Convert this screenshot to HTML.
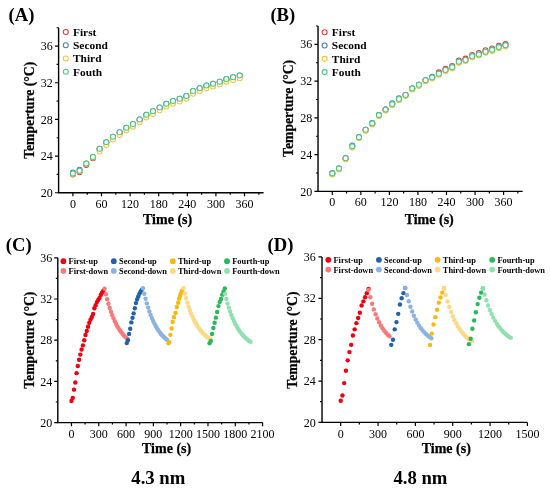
<!DOCTYPE html><html><head><meta charset="utf-8"><style>
html,body{margin:0;padding:0;background:#fff;}svg{display:block;will-change:transform;opacity:0.999;}
text{font-family:"Liberation Serif", serif;fill:#000;}
.tk{font-size:12px;}.lb{font-size:14px;font-weight:bold;stroke:#000;stroke-width:0.25px;}.yl{font-size:13.7px;font-weight:bold;stroke:#000;stroke-width:0.25px;}.pl{font-size:18.6px;font-weight:bold;}
.lg{font-size:11.4px;font-weight:bold;}.lg2{font-size:8.4px;font-weight:bold;}.nm{font-size:18.7px;font-weight:bold;}
</style></head><body>
<svg width="550" height="500" viewBox="0 0 550 500">
<rect width="550" height="500" fill="#fff"/>
<path d="M58.6 27.74V192.75H263.58" fill="none" stroke="#000" stroke-width="1.4" stroke-linecap="butt"/>
<path d="M72.9 192.75v3.6 M101.5 192.75v3.6 M130.1 192.75v3.6 M158.71 192.75v3.6 M187.31 192.75v3.6 M215.91 192.75v3.6 M244.51 192.75v3.6 M87.2 192.75v2 M115.8 192.75v2 M144.41 192.75v2 M173.01 192.75v2 M201.61 192.75v2 M230.21 192.75v2 M258.81 192.75v2 M58.6 192.75h-3.6 M58.6 156.08h-3.6 M58.6 119.41h-3.6 M58.6 82.75h-3.6 M58.6 46.08h-3.6 M58.6 174.42h-2 M58.6 137.75h-2 M58.6 101.08h-2 M58.6 64.41h-2 M58.6 27.74h-2" fill="none" stroke="#000" stroke-width="1.2"/>
<text x="72.9" y="207.5" text-anchor="middle" class="tk">0</text>
<text x="101.5" y="207.5" text-anchor="middle" class="tk">60</text>
<text x="130.1" y="207.5" text-anchor="middle" class="tk">120</text>
<text x="158.71" y="207.5" text-anchor="middle" class="tk">180</text>
<text x="187.31" y="207.5" text-anchor="middle" class="tk">240</text>
<text x="215.91" y="207.5" text-anchor="middle" class="tk">300</text>
<text x="244.51" y="207.5" text-anchor="middle" class="tk">360</text>
<text x="52.8" y="196.85" text-anchor="end" class="tk">20</text>
<text x="52.8" y="160.18" text-anchor="end" class="tk">24</text>
<text x="52.8" y="123.51" text-anchor="end" class="tk">28</text>
<text x="52.8" y="86.85" text-anchor="end" class="tk">32</text>
<text x="52.8" y="50.18" text-anchor="end" class="tk">36</text>
<g fill="#fff" stroke="#ea3a40" stroke-width="1.05"><circle cx="72.9" cy="174.51" r="2.5"/><circle cx="79.57" cy="172.22" r="2.5"/><circle cx="86.25" cy="164.97" r="2.5"/><circle cx="92.92" cy="158.28" r="2.5"/><circle cx="99.6" cy="149.21" r="2.5"/><circle cx="106.27" cy="142.79" r="2.5"/><circle cx="112.94" cy="137.29" r="2.5"/><circle cx="119.62" cy="132.71" r="2.5"/><circle cx="126.29" cy="128.12" r="2.5"/><circle cx="132.96" cy="124.46" r="2.5"/><circle cx="139.64" cy="119.87" r="2.5"/><circle cx="146.31" cy="115.29" r="2.5"/><circle cx="152.99" cy="111.62" r="2.5"/><circle cx="159.66" cy="107.96" r="2.5"/><circle cx="166.33" cy="104.29" r="2.5"/><circle cx="173.01" cy="101.54" r="2.5"/><circle cx="179.68" cy="99.25" r="2.5"/><circle cx="186.35" cy="96.5" r="2.5"/><circle cx="193.03" cy="91.45" r="2.5"/><circle cx="199.7" cy="88.7" r="2.5"/><circle cx="206.38" cy="85.95" r="2.5"/><circle cx="213.05" cy="84.12" r="2.5"/><circle cx="219.72" cy="82.29" r="2.5"/><circle cx="226.4" cy="79.54" r="2.5"/><circle cx="233.07" cy="77.7" r="2.5"/><circle cx="239.75" cy="75.87" r="2.5"/></g>
<g fill="#fff" stroke="#4d7fc0" stroke-width="1.05"><circle cx="72.9" cy="172.58" r="2.5"/><circle cx="79.57" cy="169.65" r="2.5"/><circle cx="86.25" cy="163.42" r="2.5"/><circle cx="92.92" cy="157" r="2.5"/><circle cx="99.6" cy="148.75" r="2.5"/><circle cx="106.27" cy="142.33" r="2.5"/><circle cx="112.94" cy="136.83" r="2.5"/><circle cx="119.62" cy="132.25" r="2.5"/><circle cx="126.29" cy="127.66" r="2.5"/><circle cx="132.96" cy="124" r="2.5"/><circle cx="139.64" cy="119.41" r="2.5"/><circle cx="146.31" cy="114.83" r="2.5"/><circle cx="152.99" cy="111.16" r="2.5"/><circle cx="159.66" cy="107.5" r="2.5"/><circle cx="166.33" cy="103.83" r="2.5"/><circle cx="173.01" cy="101.08" r="2.5"/><circle cx="179.68" cy="98.79" r="2.5"/><circle cx="186.35" cy="96.04" r="2.5"/><circle cx="193.03" cy="91" r="2.5"/><circle cx="199.7" cy="88.25" r="2.5"/><circle cx="206.38" cy="85.5" r="2.5"/><circle cx="213.05" cy="83.66" r="2.5"/><circle cx="219.72" cy="81.83" r="2.5"/><circle cx="226.4" cy="79.08" r="2.5"/><circle cx="233.07" cy="77.25" r="2.5"/><circle cx="239.75" cy="75.41" r="2.5"/></g>
<g fill="#fff" stroke="#f8c232" stroke-width="1.05"><circle cx="72.9" cy="173.96" r="2.5"/><circle cx="79.57" cy="171.21" r="2.5"/><circle cx="86.25" cy="163.87" r="2.5"/><circle cx="92.92" cy="157.46" r="2.5"/><circle cx="99.6" cy="151.5" r="2.5"/><circle cx="106.27" cy="145.08" r="2.5"/><circle cx="112.94" cy="139.58" r="2.5"/><circle cx="119.62" cy="135" r="2.5"/><circle cx="126.29" cy="130.41" r="2.5"/><circle cx="132.96" cy="126.75" r="2.5"/><circle cx="139.64" cy="122.16" r="2.5"/><circle cx="146.31" cy="117.58" r="2.5"/><circle cx="152.99" cy="113.91" r="2.5"/><circle cx="159.66" cy="110.25" r="2.5"/><circle cx="166.33" cy="106.58" r="2.5"/><circle cx="173.01" cy="103.83" r="2.5"/><circle cx="179.68" cy="101.54" r="2.5"/><circle cx="186.35" cy="98.79" r="2.5"/><circle cx="193.03" cy="93.75" r="2.5"/><circle cx="199.7" cy="91" r="2.5"/><circle cx="206.38" cy="88.25" r="2.5"/><circle cx="213.05" cy="86.41" r="2.5"/><circle cx="219.72" cy="84.58" r="2.5"/><circle cx="226.4" cy="81.83" r="2.5"/><circle cx="233.07" cy="80" r="2.5"/><circle cx="239.75" cy="78.16" r="2.5"/></g>
<g fill="#fff" stroke="#4cc888" stroke-width="1.05"><circle cx="72.9" cy="173.5" r="2.5"/><circle cx="79.57" cy="170.75" r="2.5"/><circle cx="86.25" cy="163.42" r="2.5"/><circle cx="92.92" cy="157" r="2.5"/><circle cx="99.6" cy="148.75" r="2.5"/><circle cx="106.27" cy="142.33" r="2.5"/><circle cx="112.94" cy="136.83" r="2.5"/><circle cx="119.62" cy="132.25" r="2.5"/><circle cx="126.29" cy="127.66" r="2.5"/><circle cx="132.96" cy="124" r="2.5"/><circle cx="139.64" cy="119.41" r="2.5"/><circle cx="146.31" cy="114.83" r="2.5"/><circle cx="152.99" cy="111.16" r="2.5"/><circle cx="159.66" cy="107.5" r="2.5"/><circle cx="166.33" cy="103.83" r="2.5"/><circle cx="173.01" cy="101.08" r="2.5"/><circle cx="179.68" cy="98.79" r="2.5"/><circle cx="186.35" cy="96.04" r="2.5"/><circle cx="193.03" cy="91" r="2.5"/><circle cx="199.7" cy="88.25" r="2.5"/><circle cx="206.38" cy="85.5" r="2.5"/><circle cx="213.05" cy="83.66" r="2.5"/><circle cx="219.72" cy="81.83" r="2.5"/><circle cx="226.4" cy="79.08" r="2.5"/><circle cx="233.07" cy="77.25" r="2.5"/><circle cx="239.75" cy="75.41" r="2.5"/></g>
<path d="M318.03 25.98V191.4H522.62" fill="none" stroke="#000" stroke-width="1.4" stroke-linecap="butt"/>
<path d="M332.3 191.4v3.6 M360.85 191.4v3.6 M389.4 191.4v3.6 M417.94 191.4v3.6 M446.49 191.4v3.6 M475.04 191.4v3.6 M503.59 191.4v3.6 M346.57 191.4v2 M375.12 191.4v2 M403.67 191.4v2 M432.22 191.4v2 M460.77 191.4v2 M489.31 191.4v2 M517.86 191.4v2 M318.03 191.4h-3.6 M318.03 154.64h-3.6 M318.03 117.88h-3.6 M318.03 81.12h-3.6 M318.03 44.36h-3.6 M318.03 173.02h-2 M318.03 136.26h-2 M318.03 99.5h-2 M318.03 62.74h-2 M318.03 25.98h-2" fill="none" stroke="#000" stroke-width="1.2"/>
<text x="332.3" y="206.3" text-anchor="middle" class="tk">0</text>
<text x="360.85" y="206.3" text-anchor="middle" class="tk">60</text>
<text x="389.4" y="206.3" text-anchor="middle" class="tk">120</text>
<text x="417.94" y="206.3" text-anchor="middle" class="tk">180</text>
<text x="446.49" y="206.3" text-anchor="middle" class="tk">240</text>
<text x="475.04" y="206.3" text-anchor="middle" class="tk">300</text>
<text x="503.59" y="206.3" text-anchor="middle" class="tk">360</text>
<text x="312.2" y="195.5" text-anchor="end" class="tk">20</text>
<text x="312.2" y="158.74" text-anchor="end" class="tk">24</text>
<text x="312.2" y="121.98" text-anchor="end" class="tk">28</text>
<text x="312.2" y="85.22" text-anchor="end" class="tk">32</text>
<text x="312.2" y="48.46" text-anchor="end" class="tk">36</text>
<g fill="#fff" stroke="#ea3a40" stroke-width="1.05"><circle cx="332.3" cy="173.39" r="2.5"/><circle cx="338.96" cy="168.43" r="2.5"/><circle cx="345.62" cy="158.32" r="2.5"/><circle cx="352.28" cy="146.37" r="2.5"/><circle cx="358.94" cy="137.18" r="2.5"/><circle cx="365.61" cy="129.83" r="2.5"/><circle cx="372.27" cy="123.39" r="2.5"/><circle cx="378.93" cy="115.12" r="2.5"/><circle cx="385.59" cy="109.61" r="2.5"/><circle cx="392.25" cy="104.1" r="2.5"/><circle cx="398.91" cy="99.04" r="2.5"/><circle cx="405.57" cy="94.91" r="2.5"/><circle cx="412.23" cy="88.47" r="2.5"/><circle cx="418.9" cy="84.8" r="2.5"/><circle cx="425.56" cy="80.2" r="2.5"/><circle cx="432.22" cy="77.44" r="2.5"/><circle cx="438.88" cy="72.39" r="2.5"/><circle cx="445.54" cy="68.71" r="2.5"/><circle cx="452.2" cy="65.96" r="2.5"/><circle cx="458.86" cy="60.44" r="2.5"/><circle cx="465.52" cy="58.6" r="2.5"/><circle cx="472.19" cy="54.93" r="2.5"/><circle cx="478.85" cy="53.09" r="2.5"/><circle cx="485.51" cy="50.33" r="2.5"/><circle cx="492.17" cy="48.5" r="2.5"/><circle cx="498.83" cy="45.74" r="2.5"/><circle cx="505.49" cy="43.9" r="2.5"/></g>
<g fill="#fff" stroke="#4d7fc0" stroke-width="1.05"><circle cx="332.3" cy="173.39" r="2.5"/><circle cx="338.96" cy="168.43" r="2.5"/><circle cx="345.62" cy="158.32" r="2.5"/><circle cx="352.28" cy="145.63" r="2.5"/><circle cx="358.94" cy="137.18" r="2.5"/><circle cx="365.61" cy="129.83" r="2.5"/><circle cx="372.27" cy="123.39" r="2.5"/><circle cx="378.93" cy="115.12" r="2.5"/><circle cx="385.59" cy="109.61" r="2.5"/><circle cx="392.25" cy="103.36" r="2.5"/><circle cx="398.91" cy="98.31" r="2.5"/><circle cx="405.57" cy="94.91" r="2.5"/><circle cx="412.23" cy="88.47" r="2.5"/><circle cx="418.9" cy="84.8" r="2.5"/><circle cx="425.56" cy="80.2" r="2.5"/><circle cx="432.22" cy="76.71" r="2.5"/><circle cx="438.88" cy="73.77" r="2.5"/><circle cx="445.54" cy="70.09" r="2.5"/><circle cx="452.2" cy="67.34" r="2.5"/><circle cx="458.86" cy="61.82" r="2.5"/><circle cx="465.52" cy="59.98" r="2.5"/><circle cx="472.19" cy="56.31" r="2.5"/><circle cx="478.85" cy="54.47" r="2.5"/><circle cx="485.51" cy="51.71" r="2.5"/><circle cx="492.17" cy="49.87" r="2.5"/><circle cx="498.83" cy="47.12" r="2.5"/><circle cx="505.49" cy="45.28" r="2.5"/></g>
<g fill="#fff" stroke="#f8c232" stroke-width="1.05"><circle cx="332.3" cy="174.49" r="2.5"/><circle cx="338.96" cy="169.53" r="2.5"/><circle cx="345.62" cy="159.42" r="2.5"/><circle cx="352.28" cy="147.47" r="2.5"/><circle cx="358.94" cy="138.28" r="2.5"/><circle cx="365.61" cy="130.93" r="2.5"/><circle cx="372.27" cy="124.5" r="2.5"/><circle cx="378.93" cy="116.23" r="2.5"/><circle cx="385.59" cy="110.71" r="2.5"/><circle cx="392.25" cy="105.2" r="2.5"/><circle cx="398.91" cy="100.14" r="2.5"/><circle cx="405.57" cy="96.01" r="2.5"/><circle cx="412.23" cy="89.57" r="2.5"/><circle cx="418.9" cy="85.9" r="2.5"/><circle cx="425.56" cy="81.3" r="2.5"/><circle cx="432.22" cy="78.55" r="2.5"/><circle cx="438.88" cy="74.87" r="2.5"/><circle cx="445.54" cy="71.19" r="2.5"/><circle cx="452.2" cy="68.44" r="2.5"/><circle cx="458.86" cy="62.92" r="2.5"/><circle cx="465.52" cy="61.09" r="2.5"/><circle cx="472.19" cy="57.41" r="2.5"/><circle cx="478.85" cy="55.57" r="2.5"/><circle cx="485.51" cy="52.81" r="2.5"/><circle cx="492.17" cy="50.98" r="2.5"/><circle cx="498.83" cy="48.22" r="2.5"/><circle cx="505.49" cy="46.38" r="2.5"/></g>
<g fill="#fff" stroke="#4cc888" stroke-width="1.05"><circle cx="332.3" cy="173.39" r="2.5"/><circle cx="338.96" cy="168.43" r="2.5"/><circle cx="345.62" cy="158.32" r="2.5"/><circle cx="352.28" cy="146.37" r="2.5"/><circle cx="358.94" cy="137.18" r="2.5"/><circle cx="365.61" cy="129.83" r="2.5"/><circle cx="372.27" cy="123.39" r="2.5"/><circle cx="378.93" cy="115.12" r="2.5"/><circle cx="385.59" cy="109.61" r="2.5"/><circle cx="392.25" cy="104.1" r="2.5"/><circle cx="398.91" cy="99.04" r="2.5"/><circle cx="405.57" cy="94.91" r="2.5"/><circle cx="412.23" cy="88.47" r="2.5"/><circle cx="418.9" cy="84.8" r="2.5"/><circle cx="425.56" cy="80.2" r="2.5"/><circle cx="432.22" cy="77.44" r="2.5"/><circle cx="438.88" cy="73.77" r="2.5"/><circle cx="445.54" cy="70.09" r="2.5"/><circle cx="452.2" cy="67.34" r="2.5"/><circle cx="458.86" cy="61.82" r="2.5"/><circle cx="465.52" cy="59.98" r="2.5"/><circle cx="472.19" cy="56.31" r="2.5"/><circle cx="478.85" cy="54.47" r="2.5"/><circle cx="485.51" cy="51.71" r="2.5"/><circle cx="492.17" cy="49.87" r="2.5"/><circle cx="498.83" cy="47.12" r="2.5"/><circle cx="505.49" cy="45.28" r="2.5"/></g>
<path d="M57.8 257.8V422.6H262.59" fill="none" stroke="#000" stroke-width="1.4" stroke-linecap="butt"/>
<path d="M71.45 422.6v3.6 M98.76 422.6v3.6 M126.06 422.6v3.6 M153.37 422.6v3.6 M180.67 422.6v3.6 M207.98 422.6v3.6 M235.29 422.6v3.6 M262.59 422.6v3.6 M85.1 422.6v2 M112.41 422.6v2 M139.72 422.6v2 M167.02 422.6v2 M194.33 422.6v2 M221.63 422.6v2 M248.94 422.6v2 M57.8 422.6h-3.6 M57.8 381.4h-3.6 M57.8 340.2h-3.6 M57.8 299h-3.6 M57.8 257.8h-3.6 M57.8 402h-2 M57.8 360.8h-2 M57.8 319.6h-2 M57.8 278.4h-2" fill="none" stroke="#000" stroke-width="1.2"/>
<text x="71.45" y="437.6" text-anchor="middle" class="tk">0</text>
<text x="98.76" y="437.6" text-anchor="middle" class="tk">300</text>
<text x="126.06" y="437.6" text-anchor="middle" class="tk">600</text>
<text x="153.37" y="437.6" text-anchor="middle" class="tk">900</text>
<text x="180.67" y="437.6" text-anchor="middle" class="tk">1200</text>
<text x="207.98" y="437.6" text-anchor="middle" class="tk">1500</text>
<text x="235.29" y="437.6" text-anchor="middle" class="tk">1800</text>
<text x="262.59" y="437.6" text-anchor="middle" class="tk">2100</text>
<text x="52.2" y="426.7" text-anchor="end" class="tk">20</text>
<text x="52.2" y="385.5" text-anchor="end" class="tk">24</text>
<text x="52.2" y="344.3" text-anchor="end" class="tk">28</text>
<text x="52.2" y="303.1" text-anchor="end" class="tk">32</text>
<text x="52.2" y="261.9" text-anchor="end" class="tk">36</text>
<g fill="#ee0010"><circle cx="71.45" cy="400.97" r="2.2"/><circle cx="72.72" cy="397.88" r="2.2"/><circle cx="74" cy="389.64" r="2.2"/><circle cx="75.27" cy="382.43" r="2.2"/><circle cx="76.55" cy="373.16" r="2.2"/><circle cx="77.82" cy="365.95" r="2.2"/><circle cx="79.1" cy="359.77" r="2.2"/><circle cx="80.37" cy="354.62" r="2.2"/><circle cx="81.64" cy="349.47" r="2.2"/><circle cx="82.92" cy="345.35" r="2.2"/><circle cx="84.19" cy="340.2" r="2.2"/><circle cx="85.47" cy="335.05" r="2.2"/><circle cx="86.74" cy="330.93" r="2.2"/><circle cx="88.02" cy="326.81" r="2.2"/><circle cx="89.29" cy="322.69" r="2.2"/><circle cx="90.56" cy="319.6" r="2.2"/><circle cx="91.84" cy="317.03" r="2.2"/><circle cx="93.11" cy="313.94" r="2.2"/><circle cx="94.39" cy="308.27" r="2.2"/><circle cx="95.66" cy="305.18" r="2.2"/><circle cx="96.94" cy="302.09" r="2.2"/><circle cx="98.21" cy="300.03" r="2.2"/><circle cx="99.48" cy="297.97" r="2.2"/><circle cx="100.76" cy="294.88" r="2.2"/><circle cx="102.03" cy="292.82" r="2.2"/><circle cx="103.31" cy="290.76" r="2.2"/></g>
<g fill="#f77a7a"><circle cx="104.58" cy="288.7" r="2.2"/><circle cx="105.86" cy="294.21" r="2.2"/><circle cx="107.13" cy="299.22" r="2.2"/><circle cx="108.4" cy="303.79" r="2.2"/><circle cx="109.68" cy="307.95" r="2.2"/><circle cx="110.95" cy="311.75" r="2.2"/><circle cx="112.23" cy="315.2" r="2.2"/><circle cx="113.5" cy="318.34" r="2.2"/><circle cx="114.78" cy="321.21" r="2.2"/><circle cx="116.05" cy="323.82" r="2.2"/><circle cx="117.32" cy="326.2" r="2.2"/><circle cx="118.6" cy="328.36" r="2.2"/><circle cx="119.87" cy="330.34" r="2.2"/><circle cx="121.15" cy="332.13" r="2.2"/><circle cx="122.42" cy="333.77" r="2.2"/><circle cx="123.7" cy="335.26" r="2.2"/><circle cx="124.97" cy="336.62" r="2.2"/><circle cx="126.24" cy="337.86" r="2.2"/><circle cx="127.52" cy="338.98" r="2.2"/></g>
<g fill="#2360a5"><circle cx="126.79" cy="343.08" r="2.2"/><circle cx="127.94" cy="340.3" r="2.2"/><circle cx="129.08" cy="333.92" r="2.2"/><circle cx="130.23" cy="328.77" r="2.2"/><circle cx="131.38" cy="322.38" r="2.2"/><circle cx="132.52" cy="317.85" r="2.2"/><circle cx="133.67" cy="313.42" r="2.2"/><circle cx="134.82" cy="308.27" r="2.2"/><circle cx="135.96" cy="303.12" r="2.2"/><circle cx="137.11" cy="299.41" r="2.2"/><circle cx="138.26" cy="296.43" r="2.2"/><circle cx="139.41" cy="293.85" r="2.2"/><circle cx="140.55" cy="291.79" r="2.2"/><circle cx="141.7" cy="289.73" r="2.2"/></g>
<g fill="#8bb2e0"><circle cx="142.99" cy="288.19" r="2.2"/><circle cx="144.27" cy="293.74" r="2.2"/><circle cx="145.54" cy="298.8" r="2.2"/><circle cx="146.81" cy="303.4" r="2.2"/><circle cx="148.09" cy="307.6" r="2.2"/><circle cx="149.36" cy="311.42" r="2.2"/><circle cx="150.64" cy="314.91" r="2.2"/><circle cx="151.91" cy="318.08" r="2.2"/><circle cx="153.19" cy="320.97" r="2.2"/><circle cx="154.46" cy="323.6" r="2.2"/><circle cx="155.73" cy="326" r="2.2"/><circle cx="157.01" cy="328.18" r="2.2"/><circle cx="158.28" cy="330.17" r="2.2"/><circle cx="159.56" cy="331.98" r="2.2"/><circle cx="160.83" cy="333.63" r="2.2"/><circle cx="162.11" cy="335.13" r="2.2"/><circle cx="163.38" cy="336.5" r="2.2"/><circle cx="164.65" cy="337.75" r="2.2"/><circle cx="165.93" cy="338.89" r="2.2"/><circle cx="167.2" cy="339.92" r="2.2"/></g>
<g fill="#fab90a"><circle cx="168.48" cy="343.19" r="2.2"/><circle cx="169.21" cy="342.26" r="2.2"/><circle cx="170.39" cy="334.84" r="2.2"/><circle cx="171.66" cy="328.46" r="2.2"/><circle cx="172.66" cy="322.07" r="2.2"/><circle cx="173.94" cy="317.13" r="2.2"/><circle cx="175.49" cy="313.01" r="2.2"/><circle cx="176.76" cy="306.93" r="2.2"/><circle cx="178.13" cy="302.81" r="2.2"/><circle cx="179.13" cy="298.79" r="2.2"/><circle cx="180.04" cy="295.91" r="2.2"/><circle cx="180.95" cy="293.23" r="2.2"/><circle cx="181.95" cy="290.66" r="2.2"/></g>
<g fill="#fcd982"><circle cx="183.5" cy="288.19" r="2.2"/><circle cx="184.77" cy="293.46" r="2.2"/><circle cx="186.04" cy="298.27" r="2.2"/><circle cx="187.32" cy="302.65" r="2.2"/><circle cx="188.59" cy="306.64" r="2.2"/><circle cx="189.87" cy="310.27" r="2.2"/><circle cx="191.14" cy="313.58" r="2.2"/><circle cx="192.42" cy="316.59" r="2.2"/><circle cx="193.69" cy="319.34" r="2.2"/><circle cx="194.96" cy="321.84" r="2.2"/><circle cx="196.24" cy="324.12" r="2.2"/><circle cx="197.51" cy="326.2" r="2.2"/><circle cx="198.79" cy="328.09" r="2.2"/><circle cx="200.06" cy="329.81" r="2.2"/><circle cx="201.34" cy="331.38" r="2.2"/><circle cx="202.61" cy="332.81" r="2.2"/><circle cx="203.88" cy="334.11" r="2.2"/><circle cx="205.16" cy="335.29" r="2.2"/><circle cx="206.43" cy="336.37" r="2.2"/><circle cx="207.71" cy="337.36" r="2.2"/><circle cx="208.98" cy="338.25" r="2.2"/><circle cx="210.26" cy="339.07" r="2.2"/></g>
<g fill="#28b95a"><circle cx="209.53" cy="343.29" r="2.2"/><circle cx="210.8" cy="341.02" r="2.2"/><circle cx="212.08" cy="334.02" r="2.2"/><circle cx="213.35" cy="328.05" r="2.2"/><circle cx="214.62" cy="322.69" r="2.2"/><circle cx="215.9" cy="317.64" r="2.2"/><circle cx="217.17" cy="311.88" r="2.2"/><circle cx="218.45" cy="306.11" r="2.2"/><circle cx="219.72" cy="301.88" r="2.2"/><circle cx="221" cy="298.9" r="2.2"/><circle cx="222.27" cy="294.67" r="2.2"/><circle cx="223.54" cy="291.38" r="2.2"/><circle cx="224.82" cy="288.39" r="2.2"/></g>
<g fill="#91e0af"><circle cx="225" cy="293.85" r="2.2"/><circle cx="226.28" cy="298.9" r="2.2"/><circle cx="227.55" cy="303.5" r="2.2"/><circle cx="228.82" cy="307.68" r="2.2"/><circle cx="230.1" cy="311.5" r="2.2"/><circle cx="231.37" cy="314.98" r="2.2"/><circle cx="232.65" cy="318.14" r="2.2"/><circle cx="233.92" cy="321.02" r="2.2"/><circle cx="235.19" cy="323.65" r="2.2"/><circle cx="236.47" cy="326.04" r="2.2"/><circle cx="237.74" cy="328.22" r="2.2"/><circle cx="239.02" cy="330.21" r="2.2"/><circle cx="240.29" cy="332.02" r="2.2"/><circle cx="241.57" cy="333.66" r="2.2"/><circle cx="242.84" cy="335.16" r="2.2"/><circle cx="244.11" cy="336.53" r="2.2"/><circle cx="245.39" cy="337.78" r="2.2"/><circle cx="246.66" cy="338.91" r="2.2"/><circle cx="247.94" cy="339.94" r="2.2"/><circle cx="249.21" cy="340.88" r="2.2"/><circle cx="250.49" cy="341.74" r="2.2"/></g>
<path d="M322.03 256.96V422.4H527.42" fill="none" stroke="#000" stroke-width="1.4" stroke-linecap="butt"/>
<path d="M340.7 422.4v3.6 M378.04 422.4v3.6 M415.39 422.4v3.6 M452.73 422.4v3.6 M490.08 422.4v3.6 M527.42 422.4v3.6 M359.37 422.4v2 M396.72 422.4v2 M434.06 422.4v2 M471.4 422.4v2 M508.75 422.4v2 M322.03 422.4h-3.6 M322.03 381.04h-3.6 M322.03 339.68h-3.6 M322.03 298.32h-3.6 M322.03 256.96h-3.6 M322.03 401.72h-2 M322.03 360.36h-2 M322.03 319h-2 M322.03 277.64h-2" fill="none" stroke="#000" stroke-width="1.2"/>
<text x="340.7" y="437.8" text-anchor="middle" class="tk">0</text>
<text x="378.04" y="437.8" text-anchor="middle" class="tk">300</text>
<text x="415.39" y="437.8" text-anchor="middle" class="tk">600</text>
<text x="452.73" y="437.8" text-anchor="middle" class="tk">900</text>
<text x="490.08" y="437.8" text-anchor="middle" class="tk">1200</text>
<text x="527.42" y="437.8" text-anchor="middle" class="tk">1500</text>
<text x="315.8" y="426.5" text-anchor="end" class="tk">20</text>
<text x="315.8" y="385.14" text-anchor="end" class="tk">24</text>
<text x="315.8" y="343.78" text-anchor="end" class="tk">28</text>
<text x="315.8" y="302.42" text-anchor="end" class="tk">32</text>
<text x="315.8" y="261.06" text-anchor="end" class="tk">36</text>
<g fill="#ee0010"><circle cx="340.7" cy="400.69" r="2.2"/><circle cx="342.44" cy="395.52" r="2.2"/><circle cx="344.19" cy="383.11" r="2.2"/><circle cx="345.93" cy="370.7" r="2.2"/><circle cx="347.67" cy="360.36" r="2.2"/><circle cx="349.41" cy="352.09" r="2.2"/><circle cx="351.16" cy="344.85" r="2.2"/><circle cx="352.9" cy="335.54" r="2.2"/><circle cx="354.64" cy="329.34" r="2.2"/><circle cx="356.38" cy="323.14" r="2.2"/><circle cx="358.13" cy="317.97" r="2.2"/><circle cx="359.87" cy="312.8" r="2.2"/><circle cx="361.61" cy="305.56" r="2.2"/><circle cx="363.36" cy="301.42" r="2.2"/><circle cx="365.1" cy="297.29" r="2.2"/><circle cx="366.84" cy="293.15" r="2.2"/><circle cx="368.58" cy="289.01" r="2.2"/></g>
<g fill="#f77a7a"><circle cx="368.58" cy="289.84" r="2.2"/><circle cx="370.33" cy="297.3" r="2.2"/><circle cx="372.07" cy="303.78" r="2.2"/><circle cx="373.81" cy="309.42" r="2.2"/><circle cx="375.55" cy="314.32" r="2.2"/><circle cx="377.3" cy="318.57" r="2.2"/><circle cx="379.04" cy="322.28" r="2.2"/><circle cx="380.78" cy="325.5" r="2.2"/><circle cx="382.53" cy="328.29" r="2.2"/><circle cx="384.27" cy="330.73" r="2.2"/><circle cx="386.01" cy="332.84" r="2.2"/><circle cx="387.75" cy="334.68" r="2.2"/><circle cx="389.5" cy="336.28" r="2.2"/></g>
<g fill="#2360a5"><circle cx="391.24" cy="344.85" r="2.2"/><circle cx="392.98" cy="339.68" r="2.2"/><circle cx="394.72" cy="329.34" r="2.2"/><circle cx="396.47" cy="322.1" r="2.2"/><circle cx="398.21" cy="313.83" r="2.2"/><circle cx="399.95" cy="304.52" r="2.2"/><circle cx="401.7" cy="298.32" r="2.2"/><circle cx="403.44" cy="293.15" r="2.2"/><circle cx="405.18" cy="287.98" r="2.2"/></g>
<g fill="#8bb2e0"><circle cx="405.18" cy="287.98" r="2.2"/><circle cx="406.92" cy="295.02" r="2.2"/><circle cx="408.67" cy="301.23" r="2.2"/><circle cx="410.41" cy="306.69" r="2.2"/><circle cx="412.15" cy="311.49" r="2.2"/><circle cx="413.89" cy="315.73" r="2.2"/><circle cx="415.64" cy="319.45" r="2.2"/><circle cx="417.38" cy="322.74" r="2.2"/><circle cx="419.12" cy="325.63" r="2.2"/><circle cx="420.87" cy="328.17" r="2.2"/><circle cx="422.61" cy="330.41" r="2.2"/><circle cx="424.35" cy="332.38" r="2.2"/><circle cx="426.09" cy="334.12" r="2.2"/><circle cx="427.84" cy="335.65" r="2.2"/><circle cx="429.58" cy="337" r="2.2"/><circle cx="431.32" cy="338.18" r="2.2"/></g>
<g fill="#fab90a"><circle cx="430.08" cy="345.06" r="2.2"/><circle cx="431.82" cy="333.58" r="2.2"/><circle cx="433.56" cy="324.48" r="2.2"/><circle cx="435.3" cy="317.14" r="2.2"/><circle cx="437.05" cy="309.8" r="2.2"/><circle cx="438.79" cy="302.66" r="2.2"/><circle cx="440.53" cy="297.49" r="2.2"/><circle cx="442.28" cy="292.63" r="2.2"/><circle cx="444.02" cy="288.39" r="2.2"/></g>
<g fill="#fcd982"><circle cx="444.02" cy="287.98" r="2.2"/><circle cx="445.76" cy="295.09" r="2.2"/><circle cx="447.5" cy="301.39" r="2.2"/><circle cx="449.25" cy="306.96" r="2.2"/><circle cx="450.99" cy="311.9" r="2.2"/><circle cx="452.73" cy="316.27" r="2.2"/><circle cx="454.47" cy="320.14" r="2.2"/><circle cx="456.22" cy="323.56" r="2.2"/><circle cx="457.96" cy="326.59" r="2.2"/><circle cx="459.7" cy="329.28" r="2.2"/><circle cx="461.45" cy="331.66" r="2.2"/><circle cx="463.19" cy="333.76" r="2.2"/><circle cx="464.93" cy="335.62" r="2.2"/><circle cx="466.67" cy="337.27" r="2.2"/><circle cx="468.42" cy="338.74" r="2.2"/><circle cx="470.16" cy="340.03" r="2.2"/><circle cx="471.9" cy="341.17" r="2.2"/></g>
<g fill="#28b95a"><circle cx="468.91" cy="344.13" r="2.2"/><circle cx="470.66" cy="338.75" r="2.2"/><circle cx="472.4" cy="328.72" r="2.2"/><circle cx="474.14" cy="320.55" r="2.2"/><circle cx="475.89" cy="312.18" r="2.2"/><circle cx="477.63" cy="304.11" r="2.2"/><circle cx="479.37" cy="297.8" r="2.2"/><circle cx="481.11" cy="292.63" r="2.2"/><circle cx="482.86" cy="288.39" r="2.2"/></g>
<g fill="#91e0af"><circle cx="482.86" cy="287.98" r="2.2"/><circle cx="484.6" cy="294.47" r="2.2"/><circle cx="486.34" cy="300.25" r="2.2"/><circle cx="488.08" cy="305.39" r="2.2"/><circle cx="489.83" cy="309.96" r="2.2"/><circle cx="491.57" cy="314.03" r="2.2"/><circle cx="493.31" cy="317.65" r="2.2"/><circle cx="495.06" cy="320.87" r="2.2"/><circle cx="496.8" cy="323.74" r="2.2"/><circle cx="498.54" cy="326.29" r="2.2"/><circle cx="500.28" cy="328.56" r="2.2"/><circle cx="502.03" cy="330.59" r="2.2"/><circle cx="503.77" cy="332.38" r="2.2"/><circle cx="505.51" cy="333.98" r="2.2"/><circle cx="507.25" cy="335.41" r="2.2"/><circle cx="509" cy="336.68" r="2.2"/><circle cx="510.74" cy="337.8" r="2.2"/></g>
<text x="167.6" y="224.2" text-anchor="middle" class="lb">Time (s)</text>
<text x="429.2" y="223.9" text-anchor="middle" class="lb">Time (s)</text>
<text x="166.6" y="452.7" text-anchor="middle" class="lb">Time (s)</text>
<text x="446.3" y="452.7" text-anchor="middle" class="lb">Time (s)</text>
<text transform="translate(34.0,110.3) rotate(-90)" text-anchor="middle" class="yl">Temperture (°C)</text>
<text transform="translate(293.2,108.4) rotate(-90)" text-anchor="middle" class="yl">Temperture (°C)</text>
<text transform="translate(34.4,340.2) rotate(-90)" text-anchor="middle" class="yl">Temperture (°C)</text>
<text transform="translate(297,340.1) rotate(-90)" text-anchor="middle" class="yl">Temperture (°C)</text>
<text x="8.6" y="21" class="pl">(A)</text>
<text x="270.4" y="21.3" class="pl">(B)</text>
<text x="5.8" y="250.9" class="pl">(C)</text>
<text x="267.6" y="251.2" class="pl">(D)</text>
<text x="158.3" y="483.9" text-anchor="middle" class="nm">4.3 nm</text>
<text x="420.4" y="484" text-anchor="middle" class="nm">4.8 nm</text>
<circle cx="65.8" cy="32" r="2.5" fill="none" stroke="#ea3a40" stroke-width="1.1"/>
<text x="73" y="35.9" class="lg">First</text>
<circle cx="65.8" cy="45.27" r="2.5" fill="none" stroke="#4d7fc0" stroke-width="1.1"/>
<text x="73" y="49.17" class="lg">Second</text>
<circle cx="65.8" cy="58.54" r="2.5" fill="none" stroke="#f8c232" stroke-width="1.1"/>
<text x="73" y="62.44" class="lg">Third</text>
<circle cx="65.8" cy="71.81" r="2.5" fill="none" stroke="#4cc888" stroke-width="1.1"/>
<text x="73" y="75.71" class="lg">Fouth</text>
<circle cx="324.6" cy="32.3" r="2.5" fill="none" stroke="#ea3a40" stroke-width="1.1"/>
<text x="331.8" y="36.2" class="lg">First</text>
<circle cx="324.6" cy="45.57" r="2.5" fill="none" stroke="#4d7fc0" stroke-width="1.1"/>
<text x="331.8" y="49.47" class="lg">Second</text>
<circle cx="324.6" cy="58.84" r="2.5" fill="none" stroke="#f8c232" stroke-width="1.1"/>
<text x="331.8" y="62.74" class="lg">Third</text>
<circle cx="324.6" cy="72.11" r="2.5" fill="none" stroke="#4cc888" stroke-width="1.1"/>
<text x="331.8" y="76.01" class="lg">Fouth</text>
<circle cx="63.4" cy="261.2" r="2.9" fill="#ee0010"/>
<circle cx="63.4" cy="270.9" r="2.9" fill="#f77a7a"/>
<text x="68.6" y="264.1" class="lg2">First-up</text>
<text x="68.6" y="273.8" class="lg2">First-down</text>
<circle cx="113.8" cy="261.2" r="2.9" fill="#2360a5"/>
<circle cx="113.8" cy="270.9" r="2.9" fill="#8bb2e0"/>
<text x="119" y="264.1" class="lg2">Second-up</text>
<text x="119" y="273.8" class="lg2">Second-down</text>
<circle cx="172.8" cy="261.2" r="2.9" fill="#fab90a"/>
<circle cx="172.8" cy="270.9" r="2.9" fill="#fcd982"/>
<text x="178" y="264.1" class="lg2">Third-up</text>
<text x="178" y="273.8" class="lg2">Third-down</text>
<circle cx="227.0" cy="261.2" r="2.9" fill="#28b95a"/>
<circle cx="227.0" cy="270.9" r="2.9" fill="#91e0af"/>
<text x="232.2" y="264.1" class="lg2">Fourth-up</text>
<text x="232.2" y="273.8" class="lg2">Fourth-down</text>
<circle cx="328.3" cy="259.8" r="2.9" fill="#ee0010"/>
<circle cx="328.3" cy="269.6" r="2.9" fill="#f77a7a"/>
<text x="333.5" y="262.7" class="lg2">First-up</text>
<text x="333.5" y="272.5" class="lg2">First-down</text>
<circle cx="378.9" cy="259.8" r="2.9" fill="#2360a5"/>
<circle cx="378.9" cy="269.6" r="2.9" fill="#8bb2e0"/>
<text x="384.1" y="262.7" class="lg2">Second-up</text>
<text x="384.1" y="272.5" class="lg2">Second-down</text>
<circle cx="437.6" cy="259.8" r="2.9" fill="#fab90a"/>
<circle cx="437.6" cy="269.6" r="2.9" fill="#fcd982"/>
<text x="442.8" y="262.7" class="lg2">Third-up</text>
<text x="442.8" y="272.5" class="lg2">Third-down</text>
<circle cx="492.2" cy="259.8" r="2.9" fill="#28b95a"/>
<circle cx="492.2" cy="269.6" r="2.9" fill="#91e0af"/>
<text x="497.4" y="262.7" class="lg2">Fourth-up</text>
<text x="497.4" y="272.5" class="lg2">Fourth-down</text>
</svg></body></html>
